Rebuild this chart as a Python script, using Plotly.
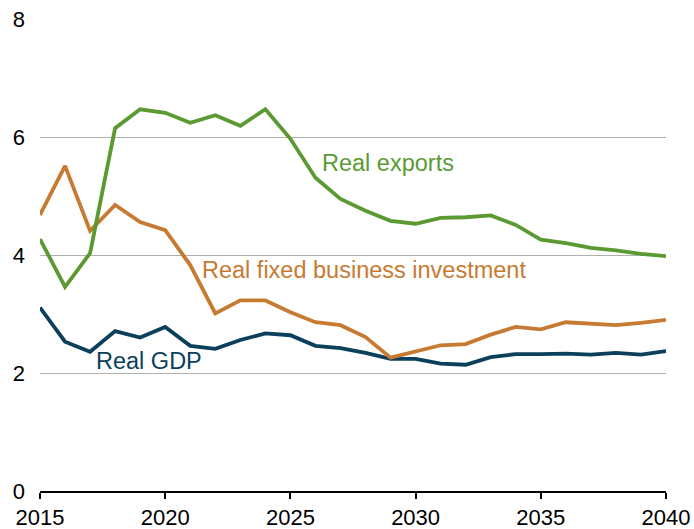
import plotly.graph_objects as go

years = list(range(2015, 2041))
real_exports = [4.27, 3.46, 4.03, 6.15, 6.47, 6.41, 6.24, 6.37, 6.19, 6.47, 5.97, 5.31, 4.95, 4.75, 4.58, 4.53,
                4.63, 4.64, 4.67, 4.51, 4.26, 4.20, 4.12, 4.08, 4.02, 3.98]
real_fbi = [4.68, 5.51, 4.41, 4.85, 4.56, 4.42, 3.83, 3.01, 3.23, 3.23, 3.03, 2.86, 2.81, 2.61, 2.26, 2.37,
            2.47, 2.49, 2.65, 2.78, 2.74, 2.86, 2.83, 2.81, 2.85, 2.90]
real_gdp = [3.11, 2.53, 2.36, 2.71, 2.60, 2.78, 2.46, 2.41, 2.56, 2.67, 2.64, 2.46, 2.42, 2.34, 2.24, 2.24,
            2.16, 2.14, 2.27, 2.32, 2.32, 2.33, 2.31, 2.34, 2.31, 2.37]

GREEN = "#5b9a32"
ORANGE = "#c77a31"
NAVY = "#0b3f5b"
FONT = "Liberation Sans, Arial, sans-serif"

fig = go.Figure()
for vals, col in [(real_gdp, NAVY), (real_fbi, ORANGE), (real_exports, GREEN)]:
    fig.add_trace(go.Scatter(x=years, y=vals, mode="lines", line=dict(color=col, width=3.8),
                             showlegend=False, hoverinfo="skip"))

labels = [("Real exports", 2026.26, 5.56, GREEN),
          ("Real fixed business investment", 2021.47, 3.75, ORANGE),
          ("Real GDP", 2017.24, 2.20, NAVY)]
for txt, x, y, col in labels:
    fig.add_annotation(x=x, y=y, text=txt, showarrow=False, xanchor="left", yanchor="middle",
                       xshift=-2, font=dict(family=FONT, size=23.5, color=col))

fig.update_layout(
    width=694, height=529,
    margin=dict(l=40, r=28, t=19, b=38),
    plot_bgcolor="white", paper_bgcolor="white",
    font=dict(family=FONT, size=22, color="black"),
)
fig.update_xaxes(range=[2015, 2040], tickvals=[2015, 2020, 2025, 2030, 2035, 2040],
                 showgrid=False, showline=True, linecolor="black", linewidth=1.5,
                 ticks="outside", ticklen=6, tickcolor="black", tickwidth=1.5,
                 zeroline=False, tickfont=dict(size=22), automargin=False)
fig.update_yaxes(range=[0, 8], tickvals=[0, 2, 4, 6, 8], showgrid=True, gridcolor="#b0b0b0",
                 gridwidth=1, zeroline=False, showline=False, ticks="", ticklabelstandoff=14,
                 tickfont=dict(size=22), automargin=False)

fig.write_html("out.html", config={"displayModeBar": False},
               post_script="document.body.style.margin='0';document.body.style.overflow='hidden';")
